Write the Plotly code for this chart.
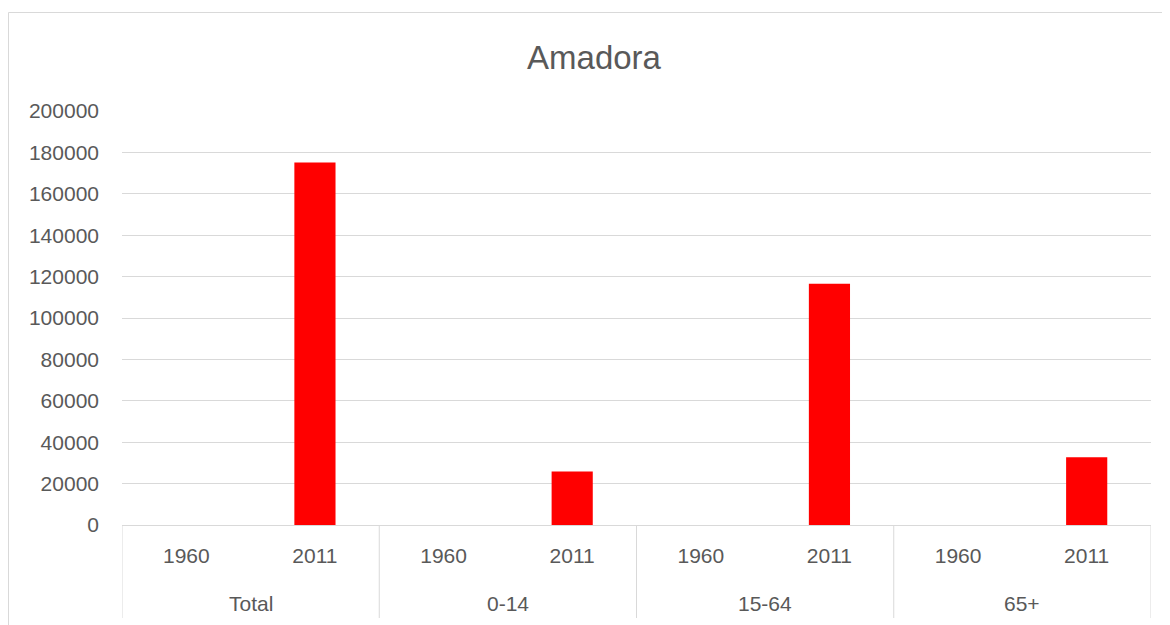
import plotly.graph_objects as go

groups = ["Total", "0-14", "15-64", "65+"]
years = ["1960", "2011"]
values_1960 = [None, None, None, None]
values_2011 = [175136, 25800, 116600, 32700]

x_keys = []
x_text = []
y_vals = []
for i, g in enumerate(groups):
    for yr, vals in zip(years, [values_1960, values_2011]):
        x_keys.append(g + " " + yr)
        x_text.append(yr)
        y_vals.append(vals[i])

# page is offset by 8px body margin; figure coords = page coords - 8
W, H = 1170, 625
L, R, T, B = 114, 27, 103, 108
pw = W - L - R
ph = H - T - B

fig = go.Figure(go.Bar(
    x=x_keys,
    y=y_vals,
    marker=dict(color="#ff0000", line=dict(width=0)),
))

font = "Liberation Sans, Arial, sans-serif"
grey = "#d9d9d9"
txt = "#595959"
n = len(x_keys)
per = len(years)

shapes = [dict(type="rect", xref="paper", yref="paper",
               x0=(0.5 - L) / pw, x1=(1200 - L) / pw,
               y0=-(720 - T - ph) / ph, y1=1 + (T - 4.5) / ph,
               line=dict(color=grey, width=1), fillcolor="rgba(0,0,0,0)", layer="below")]
for k in range(len(groups) + 1):
    xb = -0.5 + k * per
    shapes.append(dict(type="line", xref="x", yref="paper", x0=xb, x1=xb,
                       y0=0, y1=-93 / ph, line=dict(color=grey, width=1)))

annotations = []
for i, g in enumerate(groups):
    annotations.append(dict(text=g, xref="x", yref="paper", x=i * per + (per - 1) / 2,
                            y=-78 / ph, yanchor="middle", xanchor="center", showarrow=False,
                            font=dict(family=font, size=21, color=txt)))

fig.update_layout(
    width=W, height=H,
    margin=dict(l=L, r=R, t=T, b=B),
    paper_bgcolor="white", plot_bgcolor="white",
    bargap=0.68,
    showlegend=False,
    title=dict(text="Amadora", x=(594 - 8) / W, xanchor="center", y=1 - 49 / H, yanchor="middle",
               font=dict(family=font, size=33, color=txt)),
    font=dict(family=font, size=21, color=txt),
    xaxis=dict(type="category", range=[-0.5, n - 0.5], showline=True, linecolor=grey, linewidth=1,
               showgrid=False, tickvals=x_keys, ticktext=x_text, ticks="",
               ticklabelstandoff=12,
               tickfont=dict(family=font, size=21, color=txt)),
    yaxis=dict(range=[0, 200000], dtick=20000, showgrid=True, gridcolor=grey,
               gridwidth=1, zeroline=False, showline=False, ticks="",
               ticklabelstandoff=22, tickformat="d",
               tickfont=dict(family=font, size=21, color=txt)),
    shapes=shapes,
    annotations=annotations,
)

fig.write_html("out.html")
